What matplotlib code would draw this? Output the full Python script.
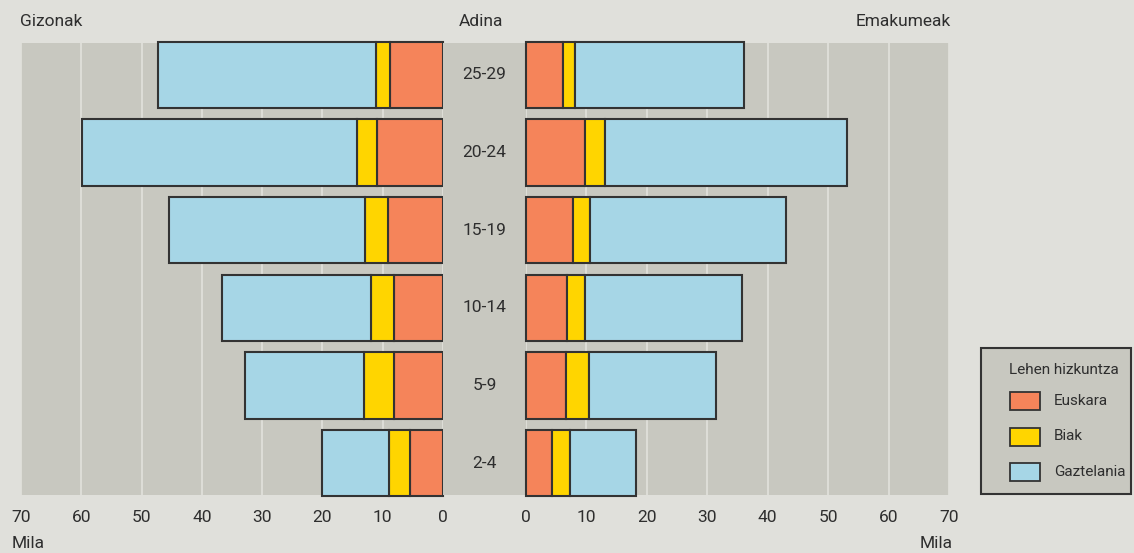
import matplotlib
matplotlib.use("Agg")
import matplotlib.pyplot as plt
from matplotlib.patches import Rectangle
import numpy as np

ages = ["25-29", "20-24", "15-19", "10-14", "5-9", "2-4"]
series = ["Euskara", "Biak", "Gaztelania"]
# thousands (Mila)
men_euskara = [8.8, 10.9, 9.1, 8.1, 8.1, 5.5]
men_biak = [2.3, 3.3, 3.8, 3.8, 5.0, 3.4]
men_gaztelania = [36.1, 45.6, 32.5, 24.7, 19.8, 11.1]
women_euskara = [6.1, 9.8, 7.8, 6.8, 6.6, 4.3]
women_biak = [2.0, 3.3, 2.8, 3.0, 3.8, 3.0]
women_gaztelania = [28.0, 40.0, 32.4, 26.0, 21.1, 10.9]
xticks = [0, 10, 20, 30, 40, 50, 60, 70]

colors = ["#F5845A", "#FFD500", "#A6D6E6"]
fig_bg = "#E0E0DB"
ax_bg = "#C8C8C0"
edge = "#333333"
txt = "#2E2E2E"
fam = ["Roboto", "DejaVu Sans"]
plt.rcParams["font.family"] = fam
plt.rcParams["font.weight"] = "normal"

W, H = 1134, 553
fig = plt.figure(figsize=(W / 100, H / 100), dpi=100, facecolor=fig_bg)

def fx(px):
    return px / W

def fy(py):
    return 1 - py / H

top, bot = 43, 495
axL = fig.add_axes([fx(21), fy(bot), fx(443 - 21), (bot - top) / H])
axM = fig.add_axes([fx(443), fy(bot), fx(526 - 443), (bot - top) / H], sharey=axL)
axR = fig.add_axes([fx(526), fy(bot), fx(949 - 526), (bot - top) / H], sharey=axL)

y = np.arange(len(ages))
h = 0.85
fs = 12.5

def draw(ax, data):
    left = np.zeros(len(ages))
    for vals, c in zip(data, colors):
        ax.barh(y, vals, left=left, height=h, color=c, edgecolor=edge,
                linewidth=1.5, zorder=3, clip_on=False)
        left = left + np.array(vals)
    ax.set_xlim(0, 70)
    ax.set_facecolor(ax_bg)
    ax.set_xticks(xticks)
    ax.set_xticklabels([str(t) for t in xticks], fontsize=fs, color=txt)
    ax.tick_params(axis="x", length=0, pad=11)
    ax.tick_params(axis="y", left=False, labelleft=False)
    ax.grid(axis="x", color="#E4E4DF", linewidth=1.1, zorder=1)
    ax.grid(axis="y", visible=False)
    for s in ax.spines.values():
        s.set_visible(False)

draw(axL, [men_euskara, men_biak, men_gaztelania])
axL.invert_xaxis()
draw(axR, [women_euskara, women_biak, women_gaztelania])
axL.set_ylim(len(ages) - 0.59, -0.41)

axM.set_facecolor(ax_bg)
axM.set_xticks([])
axM.tick_params(axis="y", left=False, labelleft=False)
for s in axM.spines.values():
    s.set_visible(False)
axM.set_xlim(0, 1)
for yi, a in zip(y, ages):
    axM.text(0.5, yi, a, ha="center", va="center", fontsize=fs, color=txt)

fig.text(fx(20), fy(21), "Gizonak", ha="left", va="center", fontsize=fs, color=txt)
fig.text(fx(481), fy(21), "Adina", ha="center", va="center", fontsize=fs, color=txt)
fig.text(fx(951), fy(21), "Emakumeak", ha="right", va="center", fontsize=fs, color=txt)
fig.text(fx(12), fy(543), "Mila", ha="left", va="center", fontsize=fs, color=txt)
fig.text(fx(953), fy(543), "Mila", ha="right", va="center", fontsize=fs, color=txt)

# legend box
lx0, ly0, lx1, ly1 = 981, 348, 1131, 494
fig.patches.append(Rectangle((fx(lx0), fy(ly1)), fx(lx1 - lx0), (ly1 - ly0) / H,
                             transform=fig.transFigure, facecolor=ax_bg,
                             edgecolor=edge, linewidth=1.5))
fig.text(fx(1009), fy(370), "Lehen hizkuntza", ha="left", va="center", fontsize=11, color=txt)
for i, (s, c) in enumerate(zip(series, colors)):
    yc = 401 + i * 35.5
    fig.patches.append(Rectangle((fx(1010), fy(yc + 9)), fx(30), 18 / H,
                                 transform=fig.transFigure, facecolor=c,
                                 edgecolor=edge, linewidth=1.3))
    fig.text(fx(1054), fy(yc), s, ha="left", va="center", fontsize=11, color=txt)

fig.savefig("out.png", dpi=100, facecolor=fig_bg)
